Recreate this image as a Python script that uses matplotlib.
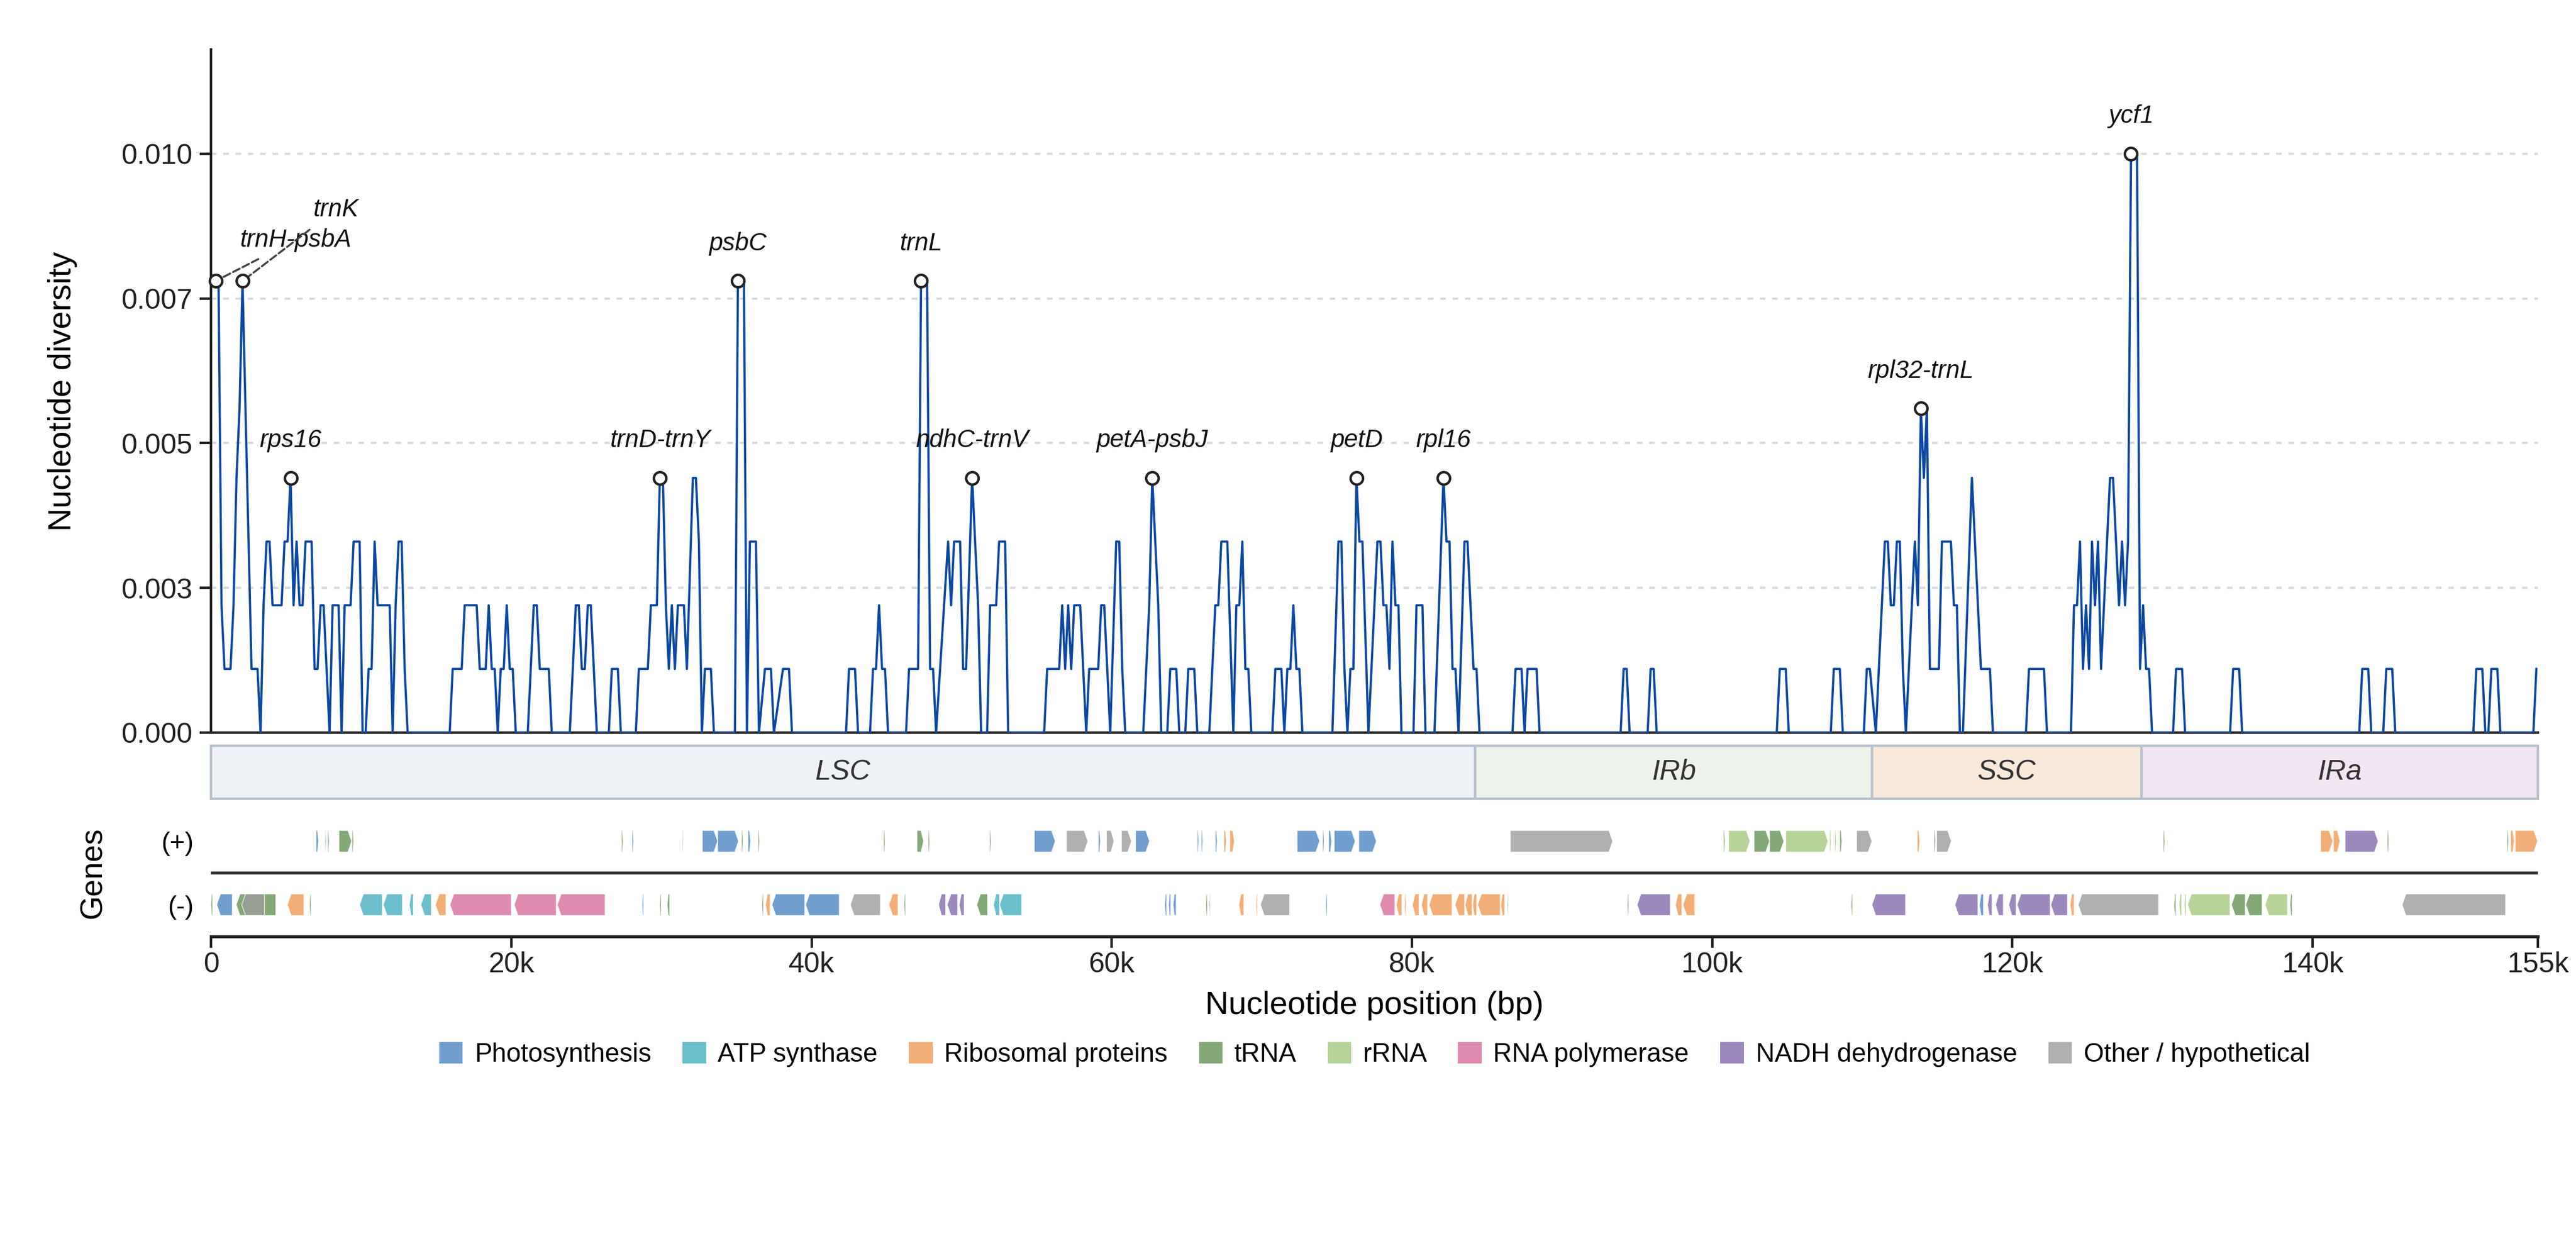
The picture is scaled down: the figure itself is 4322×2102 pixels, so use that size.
import matplotlib
matplotlib.use('Agg')
import matplotlib.pyplot as plt
from matplotlib.patches import Polygon, Rectangle, Patch
from matplotlib.ticker import MultipleLocator, FormatStrFormatter
import numpy as np

plt.rcParams['font.family'] = ['Liberation Sans', 'DejaVu Sans']

# sliding window: window midpoints start at 300 bp, step 200 bp
WIN_FIRST = 300
WIN_STEP = 200
GENOME_LEN = 155000

# (window number, nucleotide diversity x 1e3) -- turning points of the curve
div_part1 = [(0, 7.8), (1, 7.8), (2, 2.2), (3, 1.1), (5, 1.1), (6, 2.2), (7, 4.4), (8, 5.6), (9, 7.8),
             (12, 1.1), (14, 1.1), (15, 0), (16, 2.2), (17, 3.3), (18, 3.3), (19, 2.2), (22, 2.2),
             (23, 3.3), (24, 3.3), (25, 4.4), (26, 2.2), (27, 3.3), (28, 2.2), (29, 2.2), (30, 3.3),
             (32, 3.3), (33, 1.1), (34, 1.1), (35, 2.2), (36, 2.2), (38, 0), (39, 2.2), (41, 2.2),
             (42, 0), (43, 2.2), (45, 2.2), (46, 3.3), (48, 3.3), (49, 0), (50, 0), (51, 1.1),
             (52, 1.1), (53, 3.3), (54, 2.2), (58, 2.2), (59, 0), (60, 2.2), (61, 3.3), (62, 3.3),
             (63, 1.1), (64, 0),
             (78, 0), (79, 1.1), (82, 1.1), (83, 2.2), (87, 2.2), (88, 1.1), (90, 1.1), (91, 2.2),
             (92, 1.1), (93, 1.1), (94, 0), (95, 1.1), (96, 1.1), (97, 2.2), (98, 1.1), (99, 1.1),
             (100, 0), (104, 0), (106, 2.2), (107, 2.2), (108, 1.1), (111, 1.1), (112, 0),
             (118, 0), (120, 2.2), (121, 2.2), (122, 1.1), (123, 1.1), (124, 2.2), (125, 2.2),
             (127, 0), (131, 0), (132, 1.1), (134, 1.1), (135, 0), (140, 0), (141, 1.1), (144, 1.1),
             (145, 2.2), (147, 2.2), (148, 4.4), (149, 4.4), (150, 2.2), (151, 1.1), (152, 2.2),
             (153, 1.1), (154, 2.2), (156, 2.2), (157, 1.1), (159, 4.4), (160, 4.4), (161, 3.3),
             (162, 0), (163, 1.1), (165, 1.1), (166, 0)]

div_part2 = [(173, 0), (174, 7.8), (176, 7.8), (177, 0), (178, 3.3), (180, 3.3), (181, 0), (183, 1.1),
             (185, 1.1), (186, 0), (189, 1.1), (191, 1.1), (192, 0),
             (210, 0), (211, 1.1), (213, 1.1), (214, 0), (218, 0), (219, 1.1), (220, 1.1), (221, 2.2),
             (222, 1.1), (223, 1.1), (224, 0), (230, 0), (231, 1.1), (234, 1.1), (235, 7.8),
             (237, 7.8), (238, 1.1), (239, 1.1), (240, 0), (244, 3.3), (245, 2.2), (246, 3.3),
             (248, 3.3), (249, 1.1), (250, 1.1), (252, 4.4), (254, 2.2), (255, 0), (257, 0),
             (258, 2.2), (260, 2.2), (261, 3.3), (263, 3.3), (264, 0),
             (276, 0), (277, 1.1), (281, 1.1), (282, 2.2), (283, 1.1), (284, 2.2), (285, 1.1),
             (286, 2.2), (288, 2.2), (290, 0), (291, 1.1), (294, 1.1), (295, 2.2), (296, 2.2),
             (298, 0), (300, 3.3), (301, 3.3), (302, 1.1), (303, 0)]

div_part3 = [(309, 0), (311, 2.2), (312, 4.4), (314, 2.2), (315, 0), (317, 0), (318, 1.1), (320, 1.1),
             (321, 0), (323, 0), (324, 1.1), (326, 1.1), (327, 0),
             (331, 0), (333, 2.2), (334, 2.2), (335, 3.3), (337, 3.3), (339, 0), (340, 2.2),
             (341, 2.2), (342, 3.3), (343, 1.1), (344, 1.1), (345, 0), (352, 0), (353, 1.1),
             (355, 1.1), (356, 0), (357, 1.1), (358, 1.1), (359, 2.2), (360, 1.1), (361, 1.1), (362, 0),
             (372, 0), (374, 3.3), (375, 3.3), (376, 1.1), (377, 0), (378, 1.1), (379, 1.1),
             (380, 4.4), (381, 3.3), (382, 3.3), (384, 0), (387, 3.3), (388, 3.3), (389, 2.2),
             (390, 2.2), (391, 1.1), (392, 3.3), (393, 2.2), (394, 2.2), (395, 0), (399, 0),
             (400, 2.2), (402, 2.2), (403, 0),
             (406, 0), (409, 4.4), (410, 3.3), (411, 3.3), (412, 1.1), (413, 1.1), (414, 0),
             (416, 3.3), (417, 3.3), (419, 1.1), (420, 1.1), (421, 0)]

div_part4 = [(432, 0), (433, 1.1), (435, 1.1), (436, 0), (437, 1.1), (440, 1.1), (441, 0),
             (468, 0), (469, 1.1), (470, 1.1), (471, 0), (477, 0), (478, 1.1), (479, 1.1), (480, 0),
             (520, 0), (521, 1.1), (523, 1.1), (524, 0), (538, 0), (539, 1.1), (541, 1.1), (542, 0),
             (549, 0), (550, 1.1), (551, 1.1), (553, 0), (556, 3.3), (557, 3.3), (558, 2.2),
             (559, 2.2), (560, 3.3), (561, 3.3), (562, 1.1), (563, 0), (566, 3.3), (567, 2.2),
             (568, 5.6), (569, 4.4), (570, 5.6), (571, 1.1), (574, 1.1), (575, 3.3), (578, 3.3),
             (579, 2.2), (580, 2.2), (581, 0), (582, 0), (585, 4.4), (588, 1.1), (591, 1.1), (592, 0),
             (603, 0), (604, 1.1), (609, 1.1), (610, 0),
             (618, 0), (619, 2.2), (620, 2.2), (621, 3.3), (622, 1.1), (623, 2.2), (624, 1.1),
             (625, 3.3), (626, 2.2), (627, 3.3), (628, 1.1), (631, 4.4), (632, 4.4), (634, 2.2),
             (635, 3.3), (636, 2.2), (637, 3.3), (638, 10.0), (640, 10.0), (641, 1.1), (642, 2.2),
             (643, 1.1), (644, 1.1), (645, 0)]

div_part5 = [(652, 0), (653, 1.1), (655, 1.1), (656, 0), (671, 0), (672, 1.1), (674, 1.1), (675, 0),
             (714, 0), (715, 1.1), (717, 1.1), (718, 0), (722, 0), (723, 1.1), (725, 1.1), (726, 0),
             (752, 0), (753, 1.1), (755, 1.1), (756, 0), (757, 0), (758, 1.1), (760, 1.1), (761, 0),
             (772, 0), (773, 1.1)]

# highlighted peaks
peak_win = [0, 9, 25, 148, 174, 235, 252, 312, 380, 409, 568, 638]
peak_labels = ['trnH-psbA', 'trnK', 'rps16', 'trnD-trnY', 'psbC', 'trnL', 'ndhC-trnV',
               'petA-psbJ', 'petD', 'rpl16', 'rpl32-trnL', 'ycf1']
# labels that were pushed aside (bp, diversity)
moved_labels = {'trnH-psbA': (5640, 0.00851), 'trnK': (8300, 0.00903)}

# quadripartite regions (kb)
regions = ['LSC', 'IRb', 'SSC', 'IRa']
region_start = [0, 84.2, 110.65, 128.6]
region_end = [84.2, 110.65, 128.6, 155.0]
region_colors = ['#eef2f6', '#edf2ea', '#f8e9da', '#f1e6f1']

# genes (start kb, end kb, strand)
photosynthesis = [(7.00, 7.16, 1), (7.60, 7.67, 1), (28.05, 28.15, 1), (32.73, 33.75, 1),
                  (33.75, 35.14, 1), (35.77, 35.94, 1), (54.84, 56.24, 1), (59.11, 59.25, 1),
                  (61.59, 62.52, 1), (65.70, 65.80, 1), (65.97, 66.07, 1), (66.90, 67.03, 1),
                  (72.35, 73.85, 1), (74.05, 74.15, 1), (74.45, 74.65, 1), (74.82, 76.22, 1),
                  (76.46, 77.63, 1),
                  (0.38, 1.42, -1), (28.72, 28.82, -1), (37.37, 39.55, -1), (39.61, 41.85, -1),
                  (63.53, 63.66, -1), (63.79, 63.93, -1), (64.09, 64.29, -1), (74.25, 74.35, -1),
                  (117.80, 118.07, -1)]
atp_synthase = [(9.90, 11.41, -1), (11.48, 12.75, -1), (13.21, 13.48, -1), (13.98, 14.68, -1),
                (52.13, 52.53, -1), (52.53, 54.00, -1)]
ribosomal = [(67.47, 67.64, 1), (67.87, 68.17, 1), (113.66, 113.83, 1), (140.53, 141.34, 1),
             (141.38, 141.82, 1), (153.19, 153.42, 1), (153.49, 154.98, 1),
             (5.09, 6.19, -1), (14.95, 15.65, -1), (36.94, 37.24, -1), (45.16, 45.76, -1),
             (68.47, 68.80, -1), (69.61, 69.71, -1), (78.96, 79.33, -1), (79.50, 79.60, -1),
             (80.03, 80.47, -1), (80.64, 81.04, -1), (81.14, 82.67, -1), (82.87, 83.51, -1),
             (83.54, 84.01, -1), (84.04, 84.31, -1), (84.38, 85.88, -1), (85.92, 86.18, -1),
             (97.55, 97.98, -1), (98.05, 98.85, -1), (123.84, 124.11, -1)]
trna = [(7.77, 7.87, 1), (8.53, 9.37, 1), (9.40, 9.50, 1), (27.35, 27.45, 1), (31.40, 31.46, 1),
        (35.34, 35.44, 1), (36.44, 36.54, 1), (44.80, 44.90, 1), (47.03, 47.47, 1),
        (47.77, 47.87, 1), (51.86, 51.96, 1), (100.75, 100.85, 1), (102.79, 103.82, 1),
        (103.82, 104.77, 1), (108.50, 108.64, 1), (114.78, 114.88, 1), (130.05, 130.15, 1),
        (144.97, 145.07, 1), (152.95, 153.05, 1),
        (0.00, 0.11, -1), (1.68, 4.32, -1), (6.56, 6.66, -1), (29.89, 29.99, -1),
        (30.39, 30.56, -1), (36.70, 36.80, -1), (46.16, 46.26, -1), (51.01, 51.73, -1),
        (66.27, 66.37, -1), (66.50, 66.57, -1), (86.35, 86.42, -1), (94.34, 94.44, -1),
        (109.25, 109.35, -1), (130.76, 130.89, -1), (134.59, 135.51, -1), (135.54, 136.63, -1),
        (138.49, 138.63, -1)]
rrna = [(101.09, 102.52, 1), (104.90, 107.72, 1), (107.82, 107.92, 1), (108.16, 108.26, 1),
        (131.10, 131.27, -1), (131.44, 131.57, -1), (131.67, 134.49, -1), (136.83, 138.32, -1)]
rna_polymerase = [(15.92, 20.00, -1), (20.20, 23.00, -1), (23.07, 26.25, -1), (77.86, 78.86, -1)]
nadh = [(142.16, 144.36, 1),
        (48.47, 48.94, -1), (49.04, 49.74, -1), (49.84, 50.17, -1), (95.00, 97.21, -1),
        (110.64, 112.88, -1), (116.17, 117.70, -1), (118.34, 118.64, -1), (118.88, 119.39, -1),
        (119.76, 120.24, -1), (120.31, 122.51, -1), (122.55, 123.67, -1)]
other = [(56.98, 58.41, 1), (59.65, 60.15, 1), (60.65, 61.32, 1), (86.55, 93.37, 1),
         (109.62, 110.64, 1), (114.95, 115.93, 1),
         (2.05, 3.56, -1), (42.59, 44.59, -1), (69.91, 71.85, -1), (124.38, 129.74, -1),
         (145.96, 152.85, -1)]

gene_groups = [('Photosynthesis', photosynthesis, '#4f86c2'),
               ('ATP synthase', atp_synthase, '#48afbe'),
               ('Ribosomal proteins', ribosomal, '#ef9a56'),
               ('tRNA', trna, '#659255'),
               ('rRNA', rrna, '#a7c881'),
               ('RNA polymerase', rna_polymerase, '#d76e9c'),
               ('NADH dehydrogenase', nadh, '#826cac'),
               ('Other / hypothetical', other, '#9c9c9c')]

xtick_pos = [0, 20000, 40000, 60000, 80000, 100000, 120000, 140000, 155000]
xtick_labels = ['0', '20k', '40k', '60k', '80k', '100k', '120k', '140k', '155k']

# ---------------------------------------------------------------
series = div_part1 + div_part2 + div_part3 + div_part4 + div_part5
win = np.array([p[0] for p in series])
pos = WIN_FIRST + WIN_STEP * win
pi = np.array([p[1] for p in series]) / 1000.0
pi_at = dict(zip(win, pi))

fig = plt.figure(figsize=(4322 / 300, 2102 / 300), dpi=300)
ax = fig.add_axes([0.08191, 0.41532, 0.90329, 0.54520])
ax_r = fig.add_axes([0.08191, 0.36251, 0.90329, 0.04234])
ax_g = fig.add_axes([0.08191, 0.25262, 0.90329, 0.10133])

# main diversity panel
ax.plot(pos, pi, color='#0d47a1', lw=0.9, zorder=3)
px = [WIN_FIRST + WIN_STEP * w for w in peak_win]
py = [pi_at[w] for w in peak_win]
ax.plot(px, py, 'o', ms=5, mfc='white', mec='#222222', mew=1.0, zorder=4, clip_on=False)
for x, y, lab in zip(px, py, peak_labels):
    if lab in moved_labels:
        ax.annotate(lab, (x, y), xytext=moved_labels[lab], textcoords='data',
                    ha='center', va='center', fontsize=10, style='italic', color='#111111',
                    arrowprops=dict(arrowstyle='-', linestyle='--', color='#444444', lw=0.8))
    else:
        ax.annotate(lab, (x, y), xytext=(0, 15), textcoords='offset points',
                    ha='center', va='center', fontsize=10, style='italic', color='#111111')

ax.set_xlim(0, GENOME_LEN)
ax.set_ylim(0, 0.0118)
ax.yaxis.set_major_locator(MultipleLocator(0.0025))
ax.yaxis.set_major_formatter(FormatStrFormatter('%.3f'))
ax.yaxis.grid(True, linestyle=(0, (2.5, 3)), color='#d5dbe1', lw=0.9)
ax.set_axisbelow(True)
ax.set_xticks([])
for s in ['top', 'right']:
    ax.spines[s].set_visible(False)
for s in ['left', 'bottom']:
    ax.spines[s].set_color('#222222')
    ax.spines[s].set_linewidth(1.0)
ax.tick_params(axis='y', labelsize=11.5, length=4.5, width=1.0, pad=3, colors='#222222')
ax.set_ylabel('Nucleotide diversity', fontsize=13)
ax.yaxis.set_label_coords(-0.0574, 0.5)

# region bar
for name, s, e, c in zip(regions, region_start, region_end, region_colors):
    ax_r.add_patch(Rectangle((s * 1000, 0), (e - s) * 1000, 1, fc=c, ec='#b8c2cc', lw=1.0,
                             clip_on=False))
    ax_r.text((s + e) / 2 * 1000, 0.5, name, ha='center', va='center', fontsize=11.5,
              style='italic', color='#333333')
ax_r.set_xlim(0, GENOME_LEN)
ax_r.set_ylim(0, 1)
ax_r.axis('off')


# gene track
def gene_arrow(a, start, end, strand, color):
    y = 0.5 if strand > 0 else -0.5
    h = 0.17
    head = min(250, 0.4 * (end - start))
    if strand > 0:
        pts = [(start, y - h), (end - head, y - h), (end, y), (end - head, y + h), (start, y + h)]
    else:
        pts = [(end, y - h), (start + head, y - h), (start, y), (start + head, y + h), (end, y + h)]
    a.add_patch(Polygon(pts, closed=True, fc=color, ec=(1, 1, 1, 0.7), lw=0.3, alpha=0.8))


handles = []
for name, genes, color in gene_groups:
    for s, e, strand in genes:
        gene_arrow(ax_g, s * 1000, e * 1000, strand, color)
    handles.append(Patch(fc=color, ec='none', alpha=0.8, label=name))

ax_g.axhline(0, color='#333333', lw=1.2)
ax_g.set_xlim(0, GENOME_LEN)
ax_g.set_ylim(-1, 1)
ax_g.set_yticks([0.5, -0.5])
ax_g.set_yticklabels(['(+)', '(-)'])
ax_g.tick_params(axis='y', length=0, pad=7, labelsize=10.5)
ax_g.set_xticks(xtick_pos)
ax_g.set_xticklabels(xtick_labels)
ax_g.tick_params(axis='x', labelsize=11.5, length=4.5, width=1.0, pad=1.5, colors='#222222')
for s in ['top', 'right', 'left']:
    ax_g.spines[s].set_visible(False)
ax_g.spines['bottom'].set_color('#222222')
ax_g.spines['bottom'].set_linewidth(1.2)
ax_g.set_ylabel('Genes', fontsize=12.5)
ax_g.yaxis.set_label_coords(-0.0443, 0.5)
ax_g.set_xlabel('Nucleotide position (bp)', fontsize=13, labelpad=5)

fig.legend(handles=handles, loc='center', bbox_to_anchor=(0.5336, 0.1584), ncol=8,
           frameon=False, fontsize=10.5, handlelength=0.9, handleheight=0.9,
           handletextpad=0.45, columnspacing=1.2)

fig.savefig('out.png', dpi=300)
